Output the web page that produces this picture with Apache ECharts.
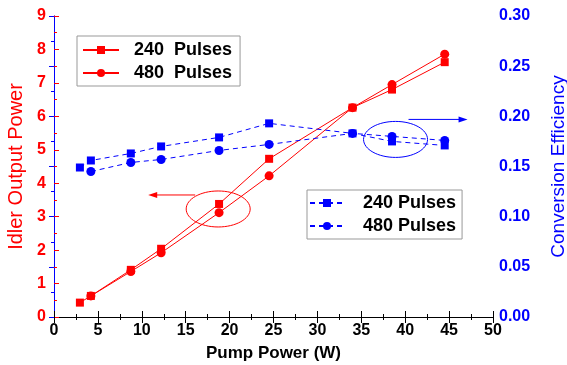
<!DOCTYPE html>
<html>
<head>
<meta charset="utf-8">
<script src="https://cdn.jsdelivr.net/npm/echarts@6/dist/echarts.min.js"></script>
<style>
html, body { margin: 0; padding: 0; background: #fff; }
#chart { width: 567px; height: 365px; }
</style>
</head>
<body>
<div id="chart"></div>
<script>
// pump power (W)
var pump240 = [2.95, 4.2, 8.75, 12.2, 18.8, 24.5, 34.0, 38.5, 44.5];
var pump480 = [4.2, 8.75, 12.2, 18.8, 24.5, 34.0, 38.5, 44.5];
// idler output power
var idler240 = [0.43, 0.63, 1.41, 2.04, 3.38, 4.73, 6.26, 6.8, 7.62];
var idler480 = [0.63, 1.36, 1.92, 3.12, 4.22, 6.26, 6.95, 7.86];
// conversion efficiency
var eff240 = [0.149, 0.156, 0.163, 0.170, 0.179, 0.193, 0.183, 0.175, 0.171];
var eff480 = [0.145, 0.154, 0.157, 0.166, 0.172, 0.183, 0.180, 0.176];

var RED = '#ff0000', BLUE = '#0000ff';
var FONT = 'Liberation Sans';

function pairs(xs, ys) {
    return xs.map(function (x, i) { return [x, ys[i]]; });
}

var chart = echarts.init(document.getElementById('chart'));

var option = {
    animation: false,
    textStyle: { fontFamily: FONT },
    grid: { left: 54, right: 74, top: 16, bottom: 48, outerBoundsMode: 'none', containLabel: false },
    legend: [{
        data: ['240  Pulses', '480  Pulses'],
        orient: 'vertical',
        left: 77, top: 36,
        itemWidth: 36, itemHeight: 10, itemGap: 5,
        padding: [5, 8, 4, 5],
        borderColor: '#999', borderWidth: 1,
        textStyle: { fontSize: 18, fontWeight: 'bold', color: '#000', padding: [0, 0, 0, 10] }
    }, {
        data: ['240 Pulses', '480 Pulses'],
        orient: 'vertical',
        left: 307, top: 190,
        itemWidth: 34, itemHeight: 10, itemGap: 5,
        padding: [4, 6, 4, 2],
        borderColor: '#999', borderWidth: 1,
        textStyle: { fontSize: 18, fontWeight: 'bold', color: '#000', padding: [0, 0, 0, 14] }
    }],
    xAxis: [{
        type: 'value', min: 0, max: 50, interval: 5,
        name: 'Pump Power (W)', nameLocation: 'middle', nameGap: 28,
        nameTextStyle: { fontSize: 17, fontWeight: 'bold', color: '#000' },
        axisLine: { lineStyle: { color: '#000', width: 1 } },
        axisTick: { inside: true, length: 6, lineStyle: { color: '#000' } },
        minorTick: { show: true, splitNumber: 2, length: 3, lineStyle: { color: '#000' } },
        axisLabel: { fontSize: 16, fontWeight: 'bold', color: '#000', margin: 6 },
        splitLine: { show: false }
    }, {
        type: 'value', min: 0, max: 50, interval: 5, position: 'top',
        axisLine: { lineStyle: { color: '#000', width: 1 } },
        axisTick: { inside: true, length: 6, lineStyle: { color: '#000' } },
        minorTick: { show: true, splitNumber: 2, length: 3, lineStyle: { color: '#000' } },
        axisLabel: { show: false },
        splitLine: { show: false }
    }],
    yAxis: [{
        type: 'value', min: 0, max: 9, interval: 1,
        name: 'Idler Output Power', nameLocation: 'middle', nameGap: 25, nameRotate: 90,
        nameTextStyle: { fontSize: 20, color: RED },
        axisLine: { show: true, lineStyle: { color: RED, width: 1 } },
        axisTick: { inside: true, length: 5, lineStyle: { color: RED } },
        minorTick: { show: true, splitNumber: 2, length: 3, lineStyle: { color: RED } },
        axisLabel: { fontSize: 16, fontWeight: 'bold', color: RED, margin: 8 },
        splitLine: { show: false }
    }, {
        type: 'value', min: 0, max: 0.3, interval: 0.05, position: 'right',
        name: 'Conversion Efficiency', nameLocation: 'middle', nameGap: 56, nameRotate: 90,
        nameTextStyle: { fontSize: 19, color: BLUE },
        axisLine: { show: true, lineStyle: { color: BLUE, width: 1 } },
        axisTick: { inside: true, length: 5, lineStyle: { color: BLUE } },
        minorTick: { show: true, splitNumber: 2, length: 3, lineStyle: { color: BLUE } },
        axisLabel: {
            fontSize: 16, fontWeight: 'bold', color: BLUE, margin: 6,
            formatter: function (v) { return v.toFixed(2); }
        },
        splitLine: { show: false }
    }],
    series: [{
        name: '240  Pulses', type: 'line', yAxisIndex: 0,
        data: pairs(pump240, idler240),
        symbol: 'rect', symbolSize: 8,
        itemStyle: { color: RED },
        lineStyle: { color: RED, width: 1 }
    }, {
        name: '480  Pulses', type: 'line', yAxisIndex: 0,
        data: pairs(pump480, idler480),
        symbol: 'circle', symbolSize: 9,
        itemStyle: { color: RED },
        lineStyle: { color: RED, width: 1 }
    }, {
        name: '240 Pulses', type: 'line', yAxisIndex: 1,
        data: pairs(pump240, eff240),
        symbol: 'rect', symbolSize: 8,
        itemStyle: { color: BLUE },
        lineStyle: { color: BLUE, width: 1, type: [5, 4] }
    }, {
        name: '480 Pulses', type: 'line', yAxisIndex: 1,
        data: pairs(pump480, eff480),
        symbol: 'circle', symbolSize: 9,
        itemStyle: { color: BLUE },
        lineStyle: { color: BLUE, width: 1, type: [5, 4] }
    }]
};

chart.setOption(option);

// annotation ellipses + arrows, placed from data coords
function note(center, axisIdx, color, arrowFrom, arrowTo) {
    var c = chart.convertToPixel({ xAxisIndex: 0, yAxisIndex: axisIdx }, center);
    var x1 = c[0] + arrowFrom[0], y1 = c[1] + arrowFrom[1];
    var x2 = c[0] + arrowTo[0], y2 = c[1] + arrowTo[1];
    var dir = x2 > x1 ? 1 : -1;
    return [{
        type: 'ellipse',
        shape: { cx: c[0], cy: c[1], rx: 32, ry: 18 },
        style: { fill: null, stroke: color, lineWidth: 1 }
    }, {
        type: 'line',
        shape: { x1: x1, y1: y1, x2: x2 - dir * 6, y2: y2 },
        style: { stroke: color, lineWidth: 1 }
    }, {
        type: 'polygon',
        shape: { points: [[x2, y2], [x2 - dir * 9, y2 - 3], [x2 - dir * 9, y2 + 3]] },
        style: { fill: color }
    }];
}

chart.setOption({
    graphic: note([18.7, 3.23], 0, RED, [-23, -14], [-70, -14])
        .concat(note([38.9, 0.177], 1, BLUE, [13, -20], [72, -20]))
});
</script>
</body>
</html>
